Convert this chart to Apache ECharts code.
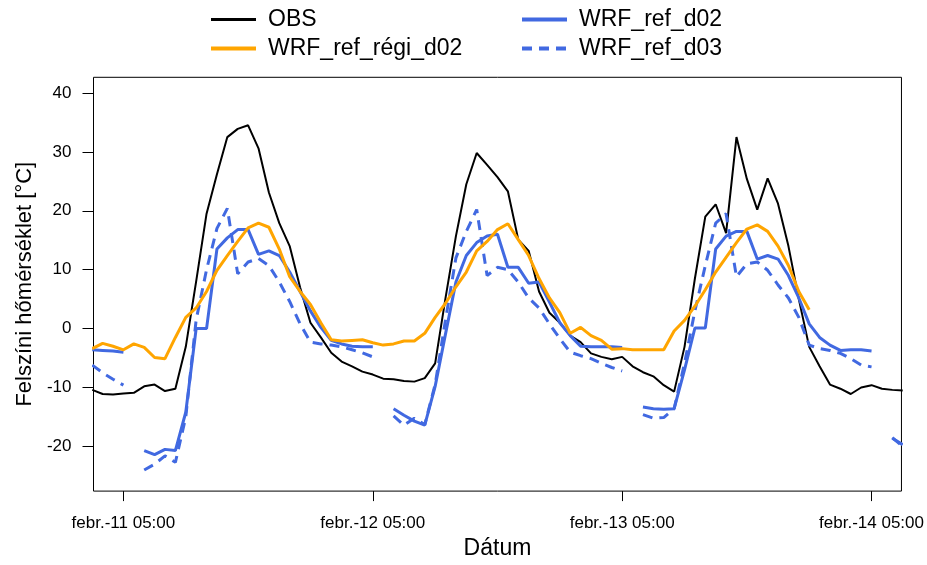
<!DOCTYPE html>
<html>
<head>
<meta charset="utf-8">
<script src="https://cdn.jsdelivr.net/npm/echarts@6/dist/echarts.min.js"></script>
<style>
  html, body { margin: 0; padding: 0; background: #fff; }
  #chart { width: 927px; height: 565px; }
</style>
</head>
<body>
<div id="chart"></div>
<script>
// órák febr.-11 05:00 óta
const hours = [
  -3, -2, -1, 0, 1, 2, 3, 4, 5, 6,
  7, 8, 9, 10, 11, 12, 13, 14, 15, 16,
  17, 18, 19, 20, 21, 22, 23, 24, 25, 26,
  27, 28, 29, 30, 31, 32, 33, 34, 35, 36,
  37, 38, 39, 40, 41, 42, 43, 44, 45, 46,
  47, 48, 49, 50, 51, 52, 53, 54, 55, 56,
  57, 58, 59, 60, 61, 62, 63, 64, 65, 66,
  67, 68, 69, 70, 71, 72, 73, 74, 75,
];
const obs = [
  -10.4, -11.1, -11.2, -11.0, -10.9, -9.8, -9.5, -10.6, -10.2, -3.1,
  8.0, 19.5, 26.2, 32.5, 33.9, 34.5, 30.6, 23.1, 17.9, 14.0,
  7.0, 1.0, -1.5, -4.1, -5.6, -6.4, -7.3, -7.8, -8.5, -8.6,
  -8.9, -9.0, -8.4, -5.9, 5.2, 15.7, 24.5, 29.8, 27.8, 25.7,
  23.3, 15.1, 13.2, 6.3, 2.7, 1.0, -1.2, -2.3, -4.2, -4.8,
  -5.2, -4.8, -6.4, -7.4, -8.1, -9.6, -10.7, -3.1, 8.5, 19.0,
  21.1, 16.2, 32.5, 25.4, 20.2, 25.5, 21.2, 14.0, 5.0, -3.1,
  -6.4, -9.5, -10.2, -11.1, -10.0, -9.6, -10.2, -10.4, -10.5,
];
const regiD02 = [
  -3.4, -2.5, -3.0, -3.6, -2.6, -3.2, -4.9, -5.1, -1.5, 1.9,
  3.5, 6.3, 9.9, 12.4, 14.8, 17.1, 17.9, 17.2, 13.5, 8.8,
  6.3, 4.1, 1.0, -1.9, -2.1, -2.0, -1.9, -2.4, -2.8, -2.6,
  -2.1, -2.1, -0.8, 1.9, 4.3, 7.1, 9.6, 13.2, 14.8, 16.8,
  17.8, 15.1, 12.4, 8.5, 5.2, 2.7, -0.8, 0.2, -1.2, -2.0,
  -3.5, -3.4, -3.6, -3.6, -3.6, -3.6, -0.4, 1.4, 3.8, 6.6,
  9.6, 12.1, 14.6, 16.9, 17.6, 16.5, 14.0, 10.7, 6.3, 3.2,
  null, null, null, null, null, null, null, null, null,
];
const refD02 = [
  -3.6, -3.7, -3.8, -4.0, null, -20.7, -21.4, -20.5, -20.7, -14.2,
  0.0, 0.0, 13.5, 15.4, 16.8, 16.8, 12.6, 13.2, 12.4, 9.6,
  6.3, 3.0, 0.2, -2.0, -2.6, -3.0, -3.1, -3.1, null, -13.6,
  -14.7, -15.7, -16.4, -9.8, -0.9, 7.9, 12.4, 14.6, 15.7, 16.0,
  10.4, 10.4, 7.7, 7.9, 4.5, 1.0, -1.2, -3.0, -3.1, -3.1,
  -3.1, -3.2, null, -13.3, -13.6, -13.7, -13.6, -7.0, 0.1, 0.1,
  13.5, 15.7, 16.5, 16.5, 11.8, 12.4, 11.8, 9.0, 5.2, 0.8,
  -1.5, -2.8, -3.7, -3.6, -3.6, -3.8, null, -18.6, -19.7,
];
const refD03 = [
  -6.2, -7.5, -8.6, -9.6, null, -24.0, -23.0, -21.6, -22.7, -15.0,
  1.5, 10.0, 17.0, 20.4, 9.3, 11.3, 11.9, 10.7, 7.9, 4.6,
  0.8, -2.3, -2.6, -2.8, -3.1, -3.6, -4.1, -4.8, null, -14.8,
  -16.4, -15.2, -16.3, -9.5, 1.5, 12.0, 16.5, 20.2, 9.0, 10.4,
  10.0, 7.9, 5.2, 3.5, 0.8, -1.7, -4.0, -4.6, -5.1, -5.9,
  -6.6, -7.2, null, -14.6, -15.2, -15.1, -13.6, -5.9, 3.0, 10.7,
  17.9, 19.5, 8.8, 11.0, 11.3, 9.9, 7.4, 5.2, 1.9, -2.8,
  -3.4, -3.7, -4.2, -5.1, -6.2, -6.5, null, -18.5, -20.0,
];
const xTickHours = [0, 24, 48, 72];
const xTickLabels = ["febr.-11 05:00", "febr.-12 05:00", "febr.-13 05:00", "febr.-14 05:00"];
const yTicks = [-20, -10, 0, 10, 20, 30, 40];

const FONT = "Liberation Sans, Arial, sans-serif";

function pairs(vals) {
  return hours.map((h, i) => [h, vals[i] === null ? "-" : vals[i]]);
}

const legendBase = {
  orient: "vertical",
  top: 3,
  itemWidth: 45,
  itemHeight: 20,
  itemGap: 6,
  itemStyle: { opacity: 0 },
  textStyle: { fontFamily: FONT, fontSize: 23, color: "#000", padding: [0, 0, 0, 7] },
};

const chart = echarts.init(document.getElementById("chart"));
chart.setOption({
  animation: false,
  backgroundColor: "#fff",
  textStyle: { fontFamily: FONT, color: "#000" },
  grid: {
    left: 93.5,
    right: 23.7,
    top: 77.3,
    bottom: 64.3,
    show: true,
    borderColor: "#000",
    borderWidth: 1,
    backgroundColor: "transparent",
  },
  legend: [
    Object.assign({}, legendBase, {
      left: 204,
      data: [
        { name: "OBS", lineStyle: { width: 3 } },
        { name: "WRF_ref_régi_d02", lineStyle: { width: 4 } },
      ],
    }),
    Object.assign({}, legendBase, {
      left: 515,
      data: [
        { name: "WRF_ref_d02", lineStyle: { width: 4 } },
        { name: "WRF_ref_d03", lineStyle: { width: 4 } },
      ],
    }),
  ],
  xAxis: {
    type: "value",
    min: -2.88,
    max: 74.88,
    name: "Dátum",
    nameLocation: "middle",
    nameGap: 45,
    nameTextStyle: { fontFamily: FONT, fontSize: 23, color: "#000" },
    axisLine: { show: false, onZero: false },
    splitLine: { show: false },
    axisTick: { show: true, inside: false, length: 10, customValues: xTickHours, lineStyle: { color: "#000" } },
    axisLabel: {
      customValues: xTickHours,
      margin: 24,
      fontFamily: FONT,
      fontSize: 17,
      color: "#000",
      formatter: (v) => xTickLabels[xTickHours.indexOf(v)] || "",
    },
  },
  yAxis: {
    type: "value",
    min: -27.58,
    max: 42.65,
    name: "Felszíni hőmérséklet [°C]",
    nameLocation: "middle",
    nameRotate: 90,
    nameGap: 47,
    nameTextStyle: { fontFamily: FONT, fontSize: 22, color: "#000" },
    axisLine: { show: false, onZero: false },
    splitLine: { show: false },
    axisTick: { show: true, inside: false, length: 11, customValues: yTicks, lineStyle: { color: "#000" } },
    axisLabel: {
      customValues: yTicks,
      margin: 22,
      fontFamily: FONT,
      fontSize: 17,
      color: "#000",
    },
  },
  series: [
    {
      name: "OBS",
      type: "line",
      symbol: "none",
      data: pairs(obs),
      lineStyle: { color: "#000", width: 2 },
      itemStyle: { color: "#000" },
    },
    {
      name: "WRF_ref_d02",
      type: "line",
      symbol: "none",
      data: pairs(refD02),
      lineStyle: { color: "#4169E1", width: 3 },
      itemStyle: { color: "#4169E1" },
    },
    {
      name: "WRF_ref_d03",
      type: "line",
      symbol: "none",
      data: pairs(refD03),
      lineStyle: { color: "#4169E1", width: 3, type: [10, 7] },
      itemStyle: { color: "#4169E1" },
    },
    {
      name: "WRF_ref_régi_d02",
      type: "line",
      symbol: "none",
      data: pairs(regiD02),
      lineStyle: { color: "#FFA500", width: 3 },
      itemStyle: { color: "#FFA500" },
    },
  ],
});
</script>
</body>
</html>
